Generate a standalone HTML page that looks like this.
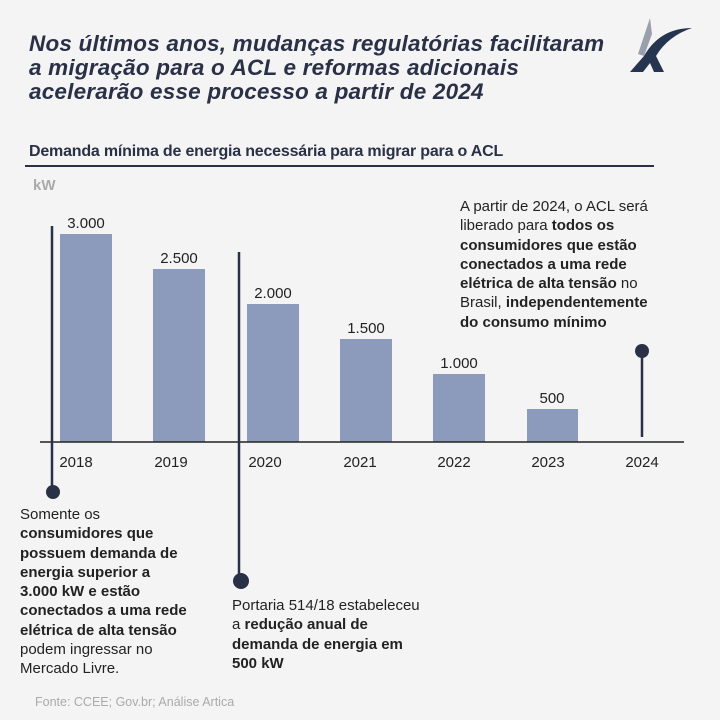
<!DOCTYPE html>
<html><head><meta charset="utf-8"><style>
body{margin:0;width:720px;height:720px;background:#f4f4f4;font-family:"Liberation Sans",sans-serif;overflow:hidden;position:relative;color:#1f1f1f}
.t{position:absolute}
.title{left:29px;top:32px;font-size:22.5px;font-weight:bold;font-style:italic;color:#2a3045;line-height:24px;letter-spacing:0.2px}
.sub{left:29px;top:143px;font-size:16px;color:#2a3045;font-weight:bold;letter-spacing:-0.2px}
.note{font-size:15px;line-height:19.3px;color:#222}
.note b{font-weight:bold}
</style></head><body>
<div class="t title">Nos últimos anos, mudanças regulatórias facilitaram<br>a migração para o ACL e reformas adicionais<br>acelerarão esse processo a partir de 2024</div>
<svg class="t" style="left:626px;top:16px" width="70" height="60" viewBox="0 0 70 60">
<path d="M24 2 L12 38 L18 40 L26 18 Z" fill="#9aa0ab"/>
<path d="M18 40 Q34 12 66 12 Q42 20 30 40 L38 56 L28 56 L24 47 L17 56 L4 56 Z" fill="#253550"/>
</svg>
<div class="t sub">Demanda mínima de energia necessária para migrar para o ACL</div>
<div class="t" style="left:25px;top:165px;width:629px;height:2px;background:#2a3045"></div>
<div class="t" style="left:33px;top:177px;font-size:15px;color:#aaa;font-weight:bold">kW</div>
<svg class="t" style="left:0;top:0" width="720" height="720">
<g fill="#8c9bbb">
<rect x="60" y="234" width="52" height="208"/>
<rect x="153" y="269" width="52" height="173"/>
<rect x="247" y="304" width="52" height="138"/>
<rect x="340" y="339" width="52" height="103"/>
<rect x="433" y="374" width="52" height="68"/>
<rect x="527" y="409" width="51" height="33"/>
</g>
<line x1="40" y1="442" x2="684" y2="442" stroke="#222" stroke-width="1.5"/>
<g font-family="Liberation Sans" font-size="15" fill="#222" text-anchor="middle">
<text x="86" y="228">3.000</text><text x="179" y="263">2.500</text><text x="273" y="298">2.000</text>
<text x="366" y="333">1.500</text><text x="459" y="368">1.000</text><text x="552" y="403">500</text>
<text x="76" y="467">2018</text><text x="171" y="467">2019</text><text x="265" y="467">2020</text>
<text x="360" y="467">2021</text><text x="454" y="467">2022</text><text x="548" y="467">2023</text><text x="642" y="467">2024</text>
</g>
<g stroke="#2a3045" stroke-width="2.5" fill="#2a3045">
<line x1="52" y1="226" x2="52" y2="492"/><circle cx="53" cy="492" r="7" stroke="none"/>
<line x1="239" y1="252" x2="239" y2="580"/><circle cx="241" cy="581" r="8" stroke="none"/>
<line x1="642" y1="350" x2="642" y2="437"/><circle cx="642" cy="351" r="7" stroke="none"/>
</g>
</svg>
<div class="t note" style="left:20px;top:505px;width:210px">Somente os<br><b>consumidores que<br>possuem demanda de<br>energia superior a<br>3.000 kW e estão<br>conectados a uma rede<br>elétrica de alta tensão</b><br>podem ingressar no<br>Mercado Livre.</div>
<div class="t note" style="left:232px;top:596px;width:230px">Portaria 514/18 estabeleceu<br>a <b>redução anual de<br>demanda de energia em<br>500 kW</b></div>
<div class="t note" style="left:460px;top:197px;width:240px">A partir de 2024, o ACL será<br>liberado para <b>todos os<br>consumidores que estão<br>conectados a uma rede<br>elétrica de alta tensão</b> no<br>Brasil, <b>independentemente<br>do consumo mínimo</b></div>
<div class="t" style="left:35px;top:695px;font-size:12.5px;color:#aaa">Fonte: CCEE; Gov.br; Análise Artica</div>
</body></html>
